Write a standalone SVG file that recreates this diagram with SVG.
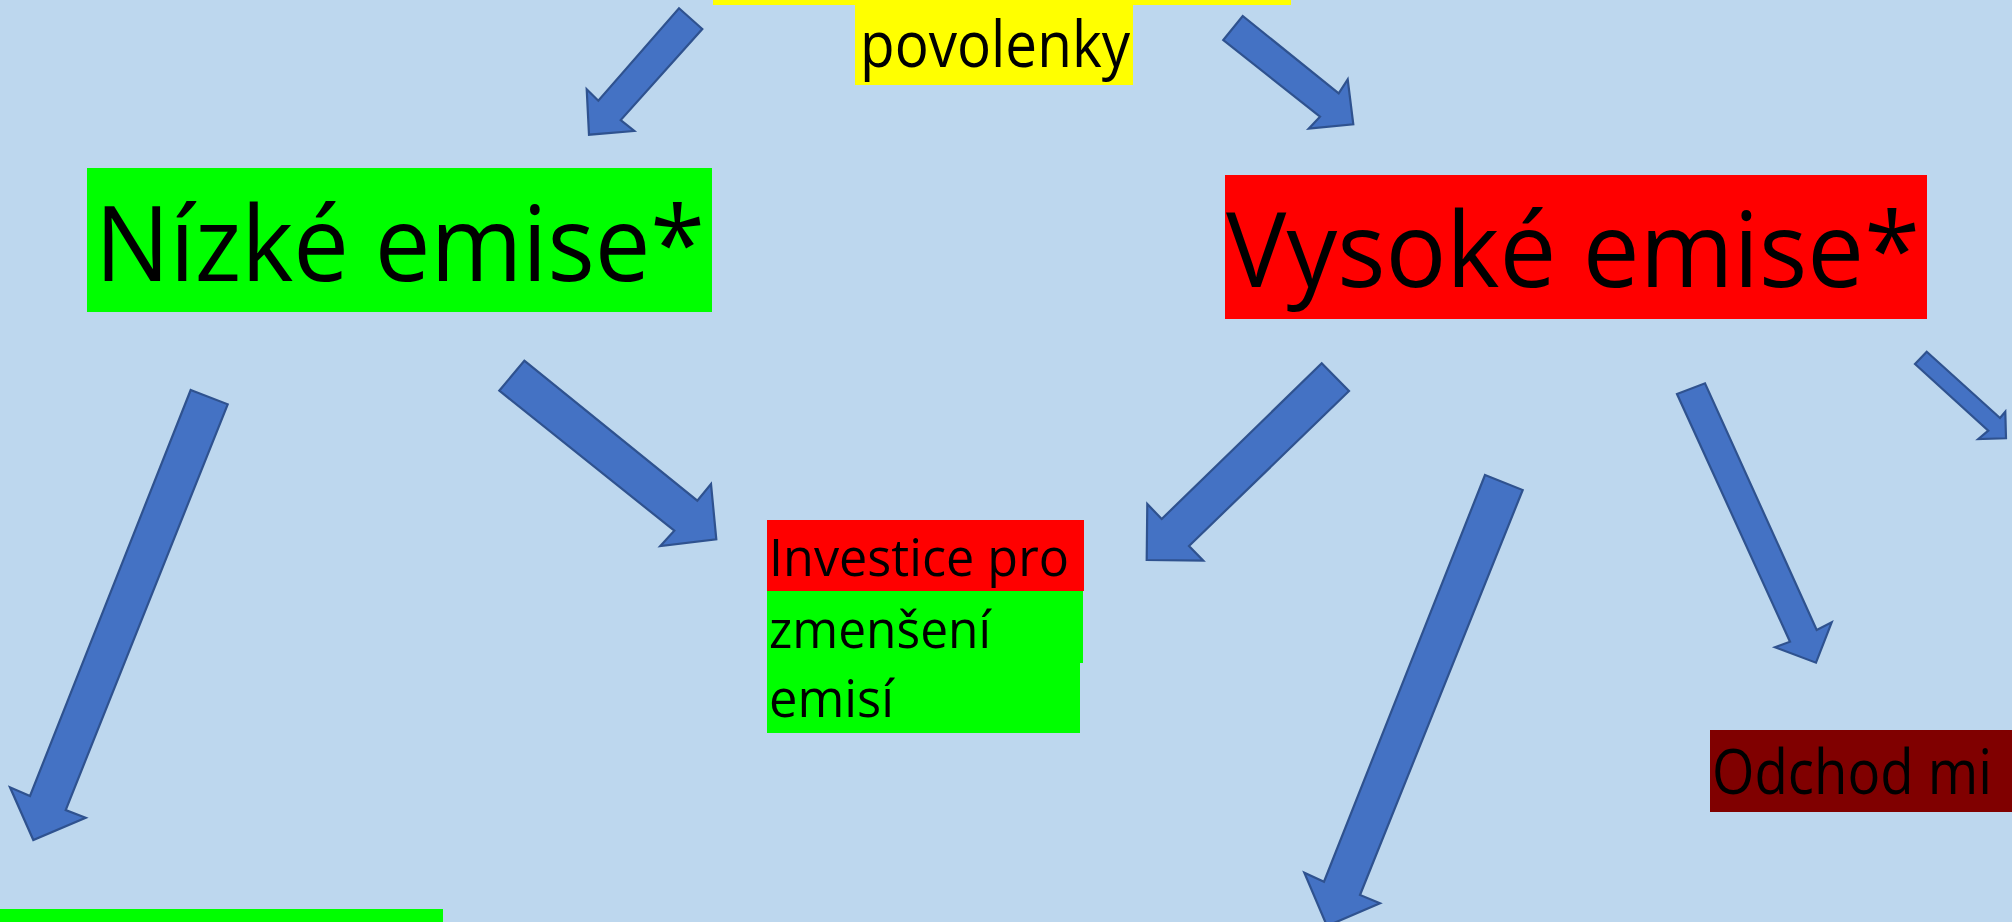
<svg xmlns="http://www.w3.org/2000/svg" width="2012" height="922" viewBox="0 0 2012 922">
<style>
.arrow{fill:#4472C4;stroke:#2F528F;stroke-width:2.2;stroke-linejoin:miter}
.t{font-family:"Open Sans","Noto Sans","Liberation Sans",sans-serif;fill:#000}
</style>
<rect x="0" y="0" width="2012" height="922" fill="#BDD7EE"/>
<g id="top-bar"><rect x="713" y="0" width="578" height="5" fill="#FFFF00"/></g>
<g id="povolenky">
<rect x="855" y="0" width="278" height="85" fill="#FFFF00"/>
<text class="t" x="860" y="67" font-size="64" textLength="270" lengthAdjust="spacingAndGlyphs">povolenky</text>
</g>
<g id="nizke-emise">
<rect x="87" y="168" width="625" height="144" fill="#00FF00"/>
<text class="t" x="95" y="281" font-size="104" textLength="610" lengthAdjust="spacingAndGlyphs">Nízké emise*</text>
</g>
<g id="vysoke-emise">
<rect x="1225" y="175" width="702" height="144" fill="#FF0000"/>
<text class="t" x="1226" y="287" font-size="104" textLength="694" lengthAdjust="spacingAndGlyphs">Vysoké emise*</text>
</g>
<g id="investice">
<rect x="767" y="520" width="317" height="71" fill="#FF0000"/>
<rect x="767" y="591" width="316" height="72" fill="#00FF00"/>
<rect x="767" y="663" width="313" height="70" fill="#00FF00"/>
<text class="t" x="769" y="576" font-size="51" textLength="300" lengthAdjust="spacingAndGlyphs">Investice pro</text>
<text class="t" x="769" y="648" font-size="51" textLength="222" lengthAdjust="spacingAndGlyphs">zmenšení</text>
<text class="t" x="769" y="717" font-size="51" textLength="125" lengthAdjust="spacingAndGlyphs">emisí</text>
</g>
<g id="odchod">
<rect x="1710" y="730" width="302" height="82" fill="#800000"/>
<text class="t" x="1712" y="794" font-size="62" textLength="280" lengthAdjust="spacingAndGlyphs">Odchod mi</text>
</g>
<g id="bottom-green"><rect x="0" y="909" width="443" height="13" fill="#00FF00"/></g>
<g id="connectors">
<polygon class="arrow" points="679,8.3 702.3,29 620.7,120 634.3,131 589,134.7 586.7,89.3 598.3,100.7"/>
<polygon class="arrow" points="1223.3,40 1242.7,16 1338.7,93.3 1347.7,79.3 1353.3,124.3 1308.7,128.7 1320,116.7"/>
<polygon class="arrow" points="524.3,360.7 697.3,500.7 711,484 716.3,539.3 660.3,546 674.3,530.7 499.3,390.7"/>
<polygon class="arrow" points="190.7,390 227.7,404.3 65.7,810 85.7,817.7 33.3,840 10,787.3 30,796"/>
<polygon class="arrow" points="1321.7,363.3 1349,391 1189,546 1203.3,560.7 1146.7,560 1147.3,504 1161.7,519"/>
<polygon class="arrow" points="1485,475 1522.7,490 1360,895 1380,903.3 1327,926 1304.3,872.7 1324,881.7"/>
<polygon class="arrow" points="1677,394 1705,383.3 1816.7,630 1831.7,622.3 1816,662.7 1775,647.3 1790,641.7"/>
<polygon class="arrow" points="1915,364 1926.7,351.7 2000,418 2005.3,411.7 2006,438.3 1978.3,439 1988.3,430.7"/>
</g>
</svg>
